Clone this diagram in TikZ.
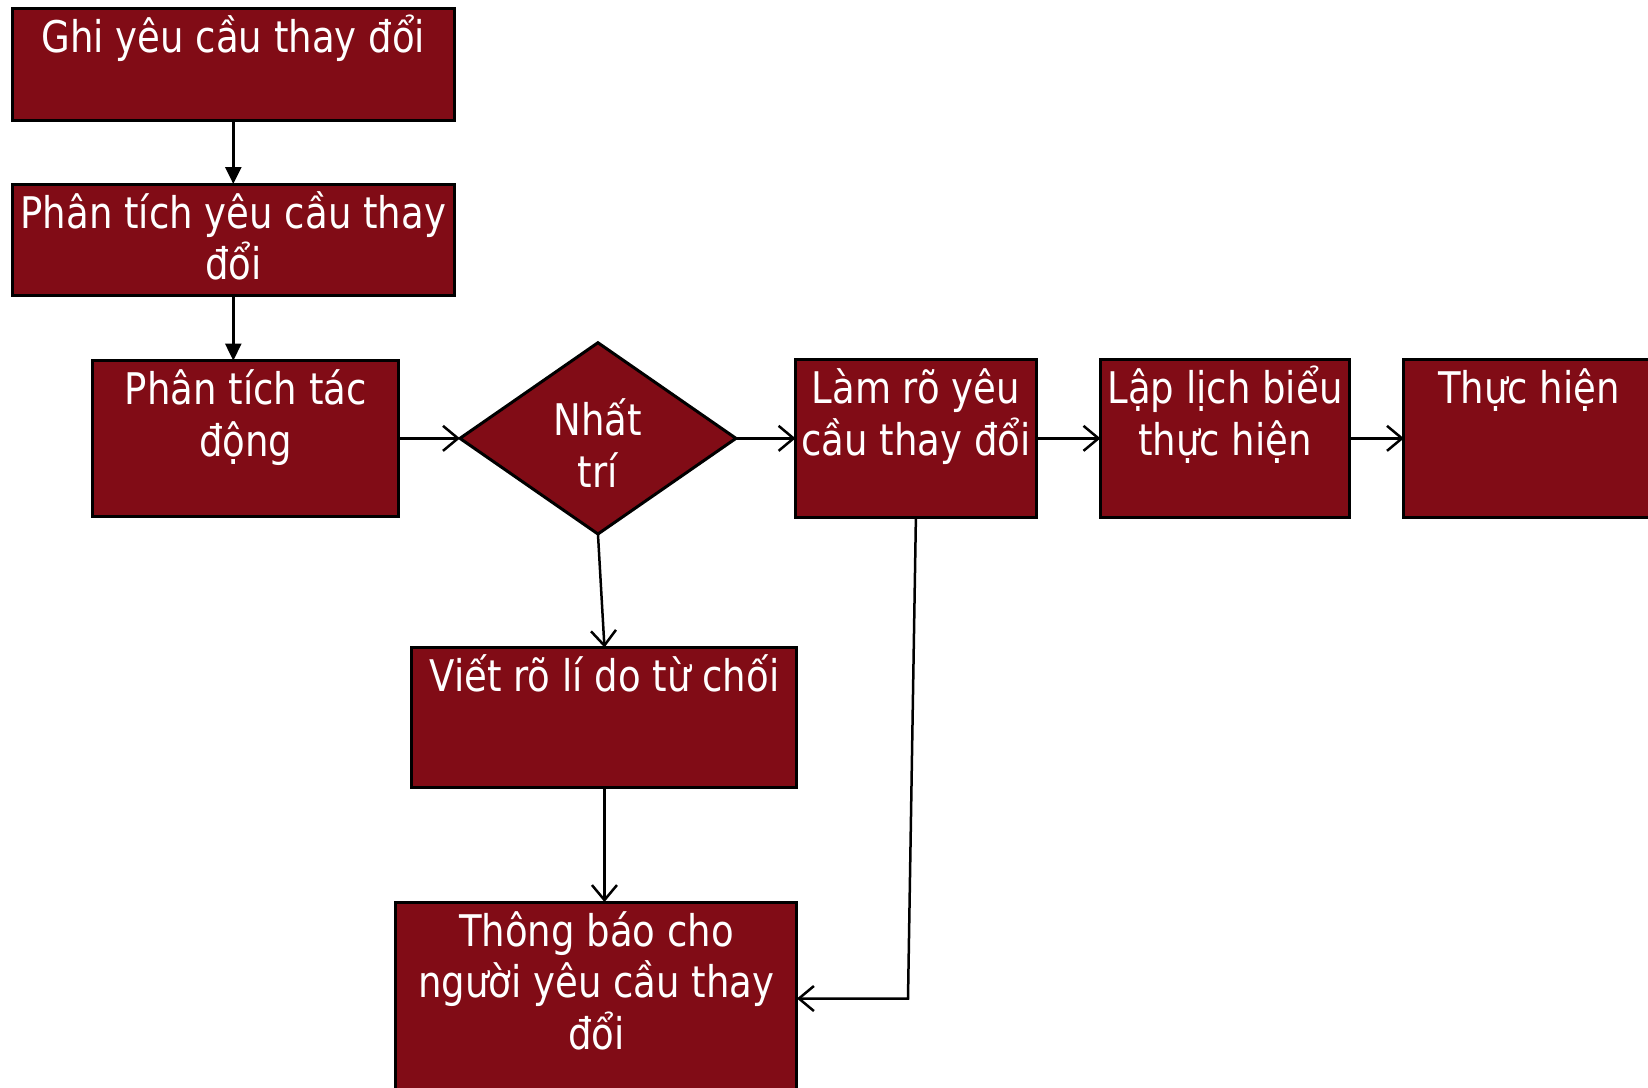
\documentclass[tikz,border=0pt]{standalone}
\usepackage{fontspec}
\setmainfont{DejaVu Sans}[FakeStretch=0.85]
\usetikzlibrary{positioning, shapes.geometric, arrows.meta}
\definecolor{boxred}{RGB}{129,12,22}
\tikzset{
	edge/.style={line width=2.5pt, -{Straight Barb[length=15pt, width=25pt, line width=2.5pt]}},
	solid edge/.style={line width=2.5pt, -{Triangle[length=17pt, width=16pt]}},
	box/.style={
		rectangle,
		draw=black,
		fill=boxred,
		line width=3pt,
		outer sep=0pt,
		inner sep=0pt
	},
	decision/.style={
		diamond,
		draw=black,
		fill=boxred,
		line width=3pt,
		outer sep=0pt,
		inner sep=0pt
	},
	box text/.style={
		font=\fontsize{43.6}{51.7}\selectfont,
		text=white,
		align=center,
		inner sep=0pt
	}
}
\newcommand{\stepnode}[4]{% node name, text, number of lines, options for the box
	\node[#4] (#1) {};
	\node[box text, anchor=base] (#1 text) at ([yshift={-44pt-(#3-1)*51.7pt}]#1.north) {#2}
}

\begin{document}
\begin{tikzpicture}[x=1pt, y=1pt]
	\useasboundingbox (0,0) rectangle (1648,-1087);
	\clip (0,0) rectangle (1648,-1087);

	\stepnode{ghi}{Ghi yêu cầu thay đổi}{1}{box, minimum width=441.4pt, minimum height=111.6pt, at={(233.3,-64.2)}};

	\stepnode{phantich}{Phân tích yêu cầu thay\\đổi}{2}{box, minimum width=441.4pt, minimum height=111.6pt, below=64pt of ghi};
	\draw[solid edge] (ghi.south) -- (phantich.north);

	\stepnode{tacdong}{Phân tích tác\\động}{2}{box, minimum width=306.5pt, minimum height=155.5pt, below=65pt of phantich, xshift=12.4pt};
	\draw[solid edge] (phantich.south) -- (phantich.south |- tacdong.north);

	\node[decision, minimum width=276pt, minimum height=191.3pt, right=61pt of tacdong] (nhattri) {};
	\node[box text, anchor=base] (nhattri text) at ([yshift=-144.7pt]nhattri.north) {Nhất\\trí};
	\draw[edge] (tacdong.east) -- (nhattri.west);

	\stepnode{lamro}{Làm rõ yêu\\cầu thay đổi}{2}{box, minimum width=240.7pt, minimum height=157.5pt, right=59.6pt of nhattri};
	\draw[edge] (nhattri.east) -- (lamro.west);

	\stepnode{laplich}{Lập lịch biểu\\thực hiện}{2}{box, minimum width=249pt, minimum height=157.5pt, right=64.2pt of lamro};
	\draw[edge] (lamro.east) -- (laplich.west);

	\stepnode{thuchien}{Thực hiện}{1}{box, minimum width=250pt, minimum height=158.5pt, right=54.5pt of laplich};
	\draw[edge] (laplich.east) -- (thuchien.west);

	\stepnode{vietro}{Viết rõ lí do từ chối}{1}{box, minimum width=385pt, minimum height=140pt, below=113.5pt of nhattri, xshift=6.5pt};
	\draw[edge] (nhattri.south) -- (vietro.north);

	\stepnode{thongbao}{Thông báo cho\\người yêu cầu thay\\đổi}{3}{box, minimum width=401pt, minimum height=220pt, below=114.5pt of vietro, xshift=-8pt};
	\draw[edge] (vietro.south) -- (vietro.south |- thongbao.north);

	\coordinate (bend) at (908,-998.5);
	\draw[edge] (lamro.south) -- (bend) -- (bend -| thongbao.east);
\end{tikzpicture}
\end{document}
